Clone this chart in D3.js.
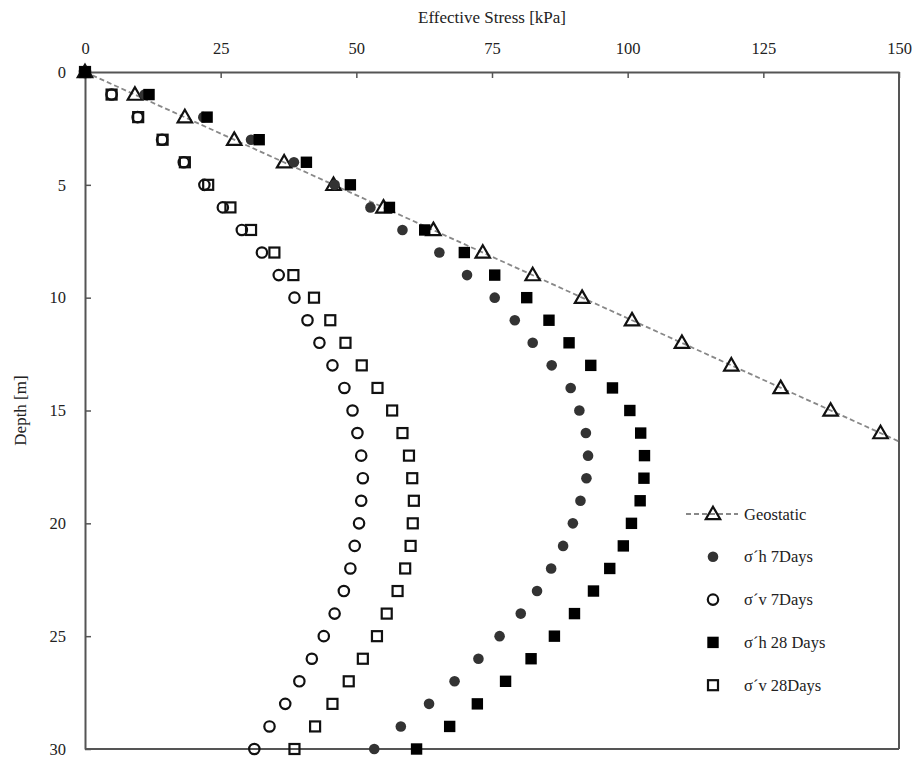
<!DOCTYPE html>
<html>
<head>
<meta charset="utf-8">
<script src="https://cdn.jsdelivr.net/npm/d3@7"></script>
<style>
  html, body { margin: 0; padding: 0; background: #fff; }
  svg { display: block; }
  text { font-family: "Liberation Serif", "DejaVu Serif", serif; fill: #222; }
</style>
</head>
<body>
<div id="chart"></div>
<script>
// ---------------- data ----------------
const depthsAll = [0,1,2,3,4,5,6,7,8,9,10,11,12,13,14,15,16,17,18,19,20,21,22,23,24,25,26,27,28,29,30];
const depthsGeo = [0,1,2,3,4,5,6,7,8,9,10,11,12,13,14,15,16];
const geostatic = [0, 9.2, 18.4, 27.5, 36.7, 45.8, 55.0, 64.2, 73.3, 82.5, 91.6, 100.8, 110.0, 119.1, 128.2, 137.4, 146.6];
const sh7  = [0, 11.0, 21.8, 30.6, 38.5, 46.0, 52.6, 58.5, 65.3, 70.4, 75.5, 79.2, 82.5, 86.0, 89.5, 91.1, 92.3, 92.7, 92.4, 91.3, 89.9, 88.1, 85.9, 83.3, 80.3, 76.4, 72.5, 68.1, 63.4, 58.2, 53.3];
const sv7  = [0, 4.9, 9.7, 14.2, 18.2, 22.0, 25.4, 28.9, 32.6, 35.7, 38.6, 41.0, 43.2, 45.6, 47.8, 49.3, 50.2, 50.9, 51.2, 50.9, 50.5, 49.7, 48.9, 47.7, 46.0, 44.0, 41.8, 39.5, 36.9, 34.0, 31.2];
const sh28 = [0, 11.8, 22.5, 32.1, 40.8, 48.9, 56.1, 62.6, 69.9, 75.5, 81.4, 85.5, 89.2, 93.2, 97.2, 100.4, 102.4, 103.1, 103.0, 102.3, 100.7, 99.2, 96.7, 93.7, 90.2, 86.5, 82.2, 77.5, 72.3, 67.2, 61.1];
const sv28 = [0, 4.9, 9.8, 14.3, 18.4, 22.7, 26.8, 30.6, 34.9, 38.4, 42.2, 45.2, 48.0, 51.0, 53.9, 56.6, 58.5, 59.7, 60.3, 60.6, 60.4, 60.0, 59.0, 57.6, 55.6, 53.8, 51.2, 48.6, 45.6, 42.4, 38.6];
const xTicks = [0, 25, 50, 75, 100, 125, 150];
const yTicks = [0, 5, 10, 15, 20, 25, 30];
const legendLabels = ["Geostatic", "σ´h 7Days", "σ´v 7Days", "σ´h 28 Days", "σ´v 28Days"];
const xTitle = "Effective Stress [kPa]";
const yTitle = "Depth [m]";

// ---------------- layout ----------------
const W = 916, H = 759;
const m = { left: 85, right: 17, top: 72, bottom: 10 };
const svg = d3.select("#chart").append("svg").attr("width", W).attr("height", H);

const x = d3.scaleLinear().domain([0, 150]).range([m.left, W - m.right]);
const y = d3.scaleLinear().domain([0, 30]).range([m.top, H - m.bottom]);

const axisColor = "#555";

// axes
const gx = svg.append("g").attr("transform", `translate(0,${m.top})`)
  .call(d3.axisTop(x).tickValues(xTicks).tickSizeInner(-6).tickSizeOuter(0).tickPadding(18));
const gy = svg.append("g").attr("transform", `translate(${m.left},0)`)
  .call(d3.axisLeft(y).tickValues(yTicks).tickSizeInner(-6).tickSizeOuter(0).tickPadding(19));
[gx, gy].forEach(g => {
  g.select(".domain").attr("stroke", axisColor).attr("stroke-width", 2);
  g.selectAll(".tick line").attr("stroke", axisColor).attr("stroke-width", 1.5);
  g.selectAll(".tick text").attr("font-family", "Liberation Serif, serif").attr("font-size", 16.5).attr("fill", "#222");
});
gx.selectAll(".tick line").attr("y2", 6);
gy.selectAll(".tick line").attr("x2", 6);
gx.selectAll(".tick").filter(d => d === 0).select("line").remove();
gy.selectAll(".tick").filter(d => d === 0).select("line").remove();

// right & bottom frame lines
svg.append("line").attr("x1", x(150)).attr("x2", x(150)).attr("y1", y(0)).attr("y2", y(30))
  .attr("stroke", axisColor).attr("stroke-width", 2);
svg.append("line").attr("x1", x(0)).attr("x2", x(150)).attr("y1", y(30)).attr("y2", y(30))
  .attr("stroke", axisColor).attr("stroke-width", 2);

// titles
svg.append("text").attr("x", (x(0) + x(150)) / 2).attr("y", 23).attr("text-anchor", "middle")
  .attr("font-size", 17).text(xTitle);
svg.append("text").attr("transform", `translate(26,${(y(0) + y(30)) / 2}) rotate(-90)`)
  .attr("text-anchor", "middle").attr("font-size", 17).text(yTitle);

// plot clip
svg.append("clipPath").attr("id", "clip").append("rect")
  .attr("x", x(0)).attr("y", y(0)).attr("width", x(150) - x(0)).attr("height", y(30) - y(0));

// geostatic dashed trend line, extended to the frame using the data slope
const slope = geostatic[geostatic.length - 1] / depthsGeo[depthsGeo.length - 1];
const zEnd = 150 / slope;
svg.append("line").attr("clip-path", "url(#clip)")
  .attr("x1", x(0)).attr("y1", y(0)).attr("x2", x(slope * zEnd)).attr("y2", y(zEnd))
  .attr("stroke", "#888").attr("stroke-width", 1.8).attr("stroke-dasharray", "5,3");

// marker helpers
const tri = d3.symbol().type(d3.symbolTriangle).size(90);
function drawTri(g, cx, cy) {
  g.append("path").attr("d", tri()).attr("transform", `translate(${cx},${cy + 1})`)
    .attr("fill", "none").attr("stroke", "#111").attr("stroke-width", 2.2);
}
function drawFilledCircle(g, cx, cy) {
  g.append("circle").attr("cx", cx).attr("cy", cy).attr("r", 5.3).attr("fill", "#333");
}
function drawOpenCircle(g, cx, cy) {
  g.append("circle").attr("cx", cx).attr("cy", cy).attr("r", 5.2).attr("fill", "none")
    .attr("stroke", "#111").attr("stroke-width", 2.2);
}
function drawFilledSquare(g, cx, cy) {
  g.append("rect").attr("x", cx - 5.7).attr("y", cy - 5.7).attr("width", 11.4).attr("height", 11.4).attr("fill", "#000");
}
function drawOpenSquare(g, cx, cy) {
  g.append("rect").attr("x", cx - 5).attr("y", cy - 5).attr("width", 10).attr("height", 10)
    .attr("fill", "none").attr("stroke", "#111").attr("stroke-width", 2.2);
}

const pts = svg.append("g");
geostatic.forEach((v, i) => drawTri(pts, x(v), y(depthsGeo[i])));
sv7.forEach((v, i) => drawOpenCircle(pts, x(v), y(depthsAll[i])));
sv28.forEach((v, i) => drawOpenSquare(pts, x(v), y(depthsAll[i])));
sh7.forEach((v, i) => drawFilledCircle(pts, x(v), y(depthsAll[i])));
sh28.forEach((v, i) => drawFilledSquare(pts, x(v), y(depthsAll[i])));

// legend
const lg = svg.append("g");
const lx = 713, ly0 = 514, dy = 42.8;
const drawers = [null, drawFilledCircle, drawOpenCircle, drawFilledSquare, drawOpenSquare];
legendLabels.forEach((lab, i) => {
  const cy = ly0 + i * dy;
  if (i === 0) {
    lg.append("line").attr("x1", lx - 27).attr("x2", lx + 25).attr("y1", cy).attr("y2", cy)
      .attr("stroke", "#888").attr("stroke-width", 1.8).attr("stroke-dasharray", "5,3");
    drawTri(lg, lx, cy);
  } else {
    drawers[i](lg, lx, cy);
  }
  lg.append("text").attr("x", lx + 31).attr("y", cy + 5.5).attr("font-size", 16.5).text(lab);
});
</script>
</body>
</html>
